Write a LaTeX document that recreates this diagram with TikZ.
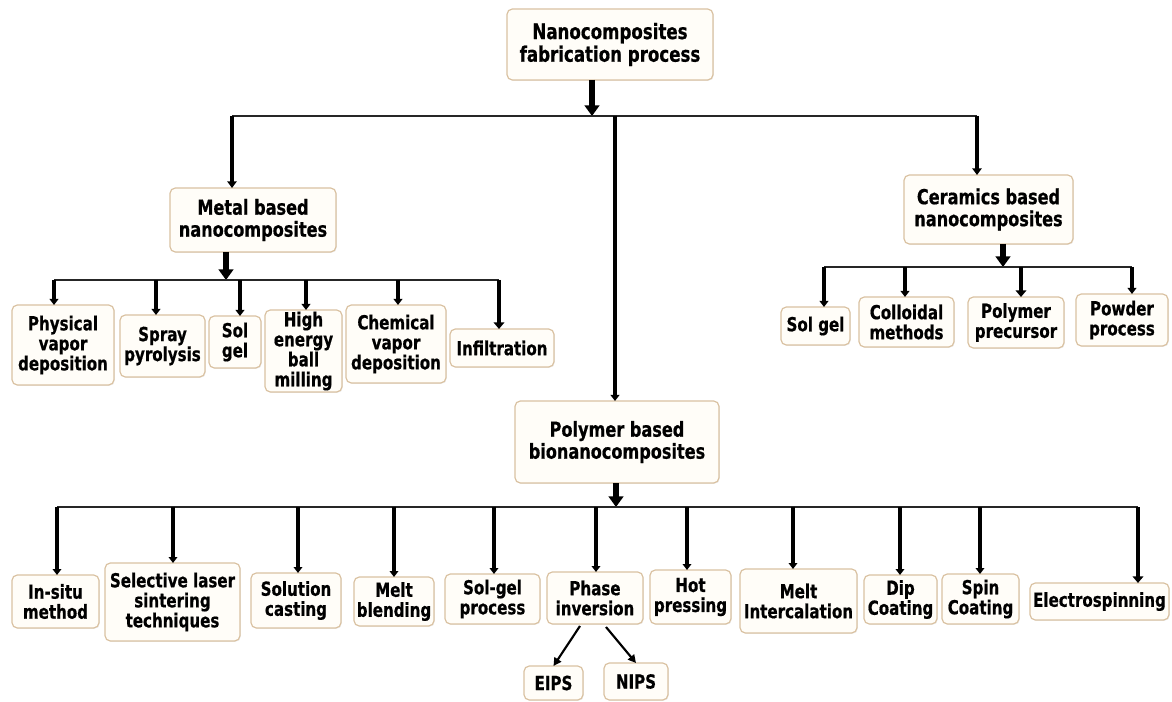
\documentclass[tikz,border=0pt]{standalone}
\usepackage{fontspec}
\setmainfont{DejaVu Sans}[FakeStretch=0.78,BoldFeatures={FakeBold=0.6}]
\usetikzlibrary{arrows.meta,calc,shadows}
\definecolor{boxc}{RGB}{218,194,162}
\definecolor{boxf}{RGB}{255,253,248}
\newcommand{\mybox}[7]{\node[box,#6,minimum width={0.75pt*(#4-#2)},minimum height={0.75pt*(#5-#3)}] (#1) at ({(#2+#4)/2},{(#3+#5)/2}) {#7};}
\begin{document}
\begin{tikzpicture}[x=0.75pt,y=-0.75pt,
  box/.style={draw=boxc, fill=boxf, line width=0.9pt, rounded corners=4pt, align=center, inner sep=0pt, outer sep=0pt, text=black, drop shadow={opacity=0.15,shadow xshift=0.6pt,shadow yshift=-0.6pt}},
  leaf/.style={font=\bfseries\fontsize{14.5}{15}\selectfont},
  cat/.style={font=\bfseries\fontsize{15.5}{16.5}\selectfont},
  topb/.style={font=\bfseries\fontsize{16}{17}\selectfont},
  bar/.style={line width=1.1pt, draw=black!85},
  bigarrow/.style={line width=5pt, -{Triangle[length=8pt,width=11pt]}},
  drop1/.style={line width=3pt, -{Triangle[length=5pt,width=7pt]}},
  drop/.style={line width=2.4pt, -{Triangle[length=4.5pt,width=6.5pt]}},
  thickdrop/.style={line width=3.6pt, -{Triangle[length=5pt,width=8pt]}},
  diag/.style={line width=1.6pt, -{Triangle[length=6pt,width=6pt]}}]
\fill[white] (0,0) rectangle (1172,702);
\useasboundingbox (0,0) rectangle (1172,702);

% ---- main boxes
\mybox{top}{507}{9}{713}{80}{topb}{Nanocomposites\\fabrication process}
\mybox{metal}{170}{188}{336}{252}{cat}{Metal based\\nanocomposites}
\mybox{cer}{904}{175}{1073}{244}{cat}{Ceramics based\\nanocomposites}
\mybox{poly}{515}{401}{719}{483}{cat}{Polymer based\\bionanocomposites}

% ---- metal leaves
\mybox{pvd}{12}{305}{114}{385}{leaf}{Physical\\vapor\\deposition}
\mybox{spray}{120}{315}{205}{377}{leaf}{Spray\\pyrolysis}
\mybox{msol}{209}{316}{261}{368}{leaf}{Sol\\gel}
\mybox{high}{265}{310}{342}{392}{leaf}{High\\energy\\ball\\milling}
\mybox{chem}{346}{305}{446}{383}{leaf}{Chemical\\vapor\\deposition}
\mybox{infil}{450}{329}{554}{367}{leaf}{Infiltration}

% ---- ceramics leaves
\mybox{csol}{781}{307}{850}{345}{leaf}{Sol gel}
\mybox{coll}{859}{297}{954}{347}{leaf}{Colloidal\\methods}
\mybox{pprec}{968}{297}{1064}{348}{leaf}{Polymer\\precursor}
\mybox{powd}{1076}{294}{1168}{346}{leaf}{Powder\\process}

% ---- polymer leaves
\mybox{insitu}{12}{575}{99}{628}{leaf}{In-situ\\method}
\mybox{sls}{105}{563}{240}{641}{leaf}{Selective laser\\sintering\\techniques}
\mybox{solc}{251}{573}{341}{628}{leaf}{Solution\\casting}
\mybox{meltb}{354}{577}{434}{626}{leaf}{Melt\\blending}
\mybox{sgp}{445}{574}{540}{624}{leaf}{Sol-gel\\process}
\mybox{phase}{547}{572}{643}{624}{leaf}{Phase\\inversion}
\mybox{hot}{650}{570}{731}{624}{leaf}{Hot\\pressing}
\mybox{melti}{740}{569}{857}{633}{leaf}{Melt\\Intercalation}
\mybox{dip}{864}{575}{937}{624}{leaf}{Dip\\Coating}
\mybox{spin}{942}{574}{1019}{624}{leaf}{Spin\\Coating}
\mybox{elec}{1030}{583}{1169}{620}{leaf}{Electrospinning}
\mybox{eips}{524}{666}{583}{700}{leaf}{EIPS}
\mybox{nips}{604}{663}{668}{700}{leaf}{NIPS}

% ---- top level connectors
\coordinate (tA) at (592,116);
\coordinate (tL) at (232,116);
\coordinate (tP) at (615,116);
\coordinate (tR) at (977,116);
\draw[bigarrow] (top.south -| tA) -- (tA);
\draw[bar] (tL) -- (tR);
\draw[drop1] (tL) -- (metal.north -| tL);
\draw[drop] (tP) -- (poly.north -| tP);
\draw[drop1] (tR) -- (cer.north -| tR);

% ---- metal connectors
\coordinate (mA) at (226,280);
\coordinate (mL) at (54,280);
\coordinate (mR) at (499,280);
\draw[bigarrow] (metal.south -| mA) -- (mA);
\draw[bar] (mL) -- (mR);
\foreach \n/\x in {pvd/54,spray/156,msol/240,high/306,chem/398}
  {\coordinate (d\n) at (\x,280); \draw[drop] (d\n) -- (\n.north -| d\n);}
\draw[thickdrop] (mR) -- (infil.north -| mR);

% ---- ceramics connectors
\coordinate (cA) at (1003,267);
\coordinate (cL) at (824,267);
\coordinate (cR) at (1132,267);
\draw[bigarrow] (cer.south -| cA) -- (cA);
\draw[bar] (cL) -- (cR);
\draw[drop] (cL) -- (csol.north -| cL);
\coordinate (dcoll) at (905,267);
\draw[drop] (dcoll) -- (coll.north -| dcoll);
\coordinate (dpprec) at (1021,267);
\draw[thickdrop] (dpprec) -- (pprec.north -| dpprec);
\draw[drop] (cR) -- (powd.north -| cR);

% ---- polymer connectors
\coordinate (pA) at (616,507);
\coordinate (pL) at (57,507);
\coordinate (pR) at (1138,507);
\draw[bigarrow] (poly.south -| pA) -- (pA);
\draw[bar] (pL) -- (pR);
\draw[drop] (pL) -- (insitu.north -| pL);
\foreach \n/\x in {sls/173,solc/298,meltb/394,sgp/494,phase/596,hot/687,melti/793,dip/900,spin/980}
  {\coordinate (d\n) at (\x,507); \draw[drop] (d\n) -- (\n.north -| d\n);}
\draw[thickdrop] (pR) -- (elec.north -| pR);

% ---- phase inversion sub-arrows
\draw[diag] ($(phase.south)+(-15,2)$) -- (eips.north);
\draw[diag] ($(phase.south)+(11,3)$) -- (nips.north);
\end{tikzpicture}
\end{document}
